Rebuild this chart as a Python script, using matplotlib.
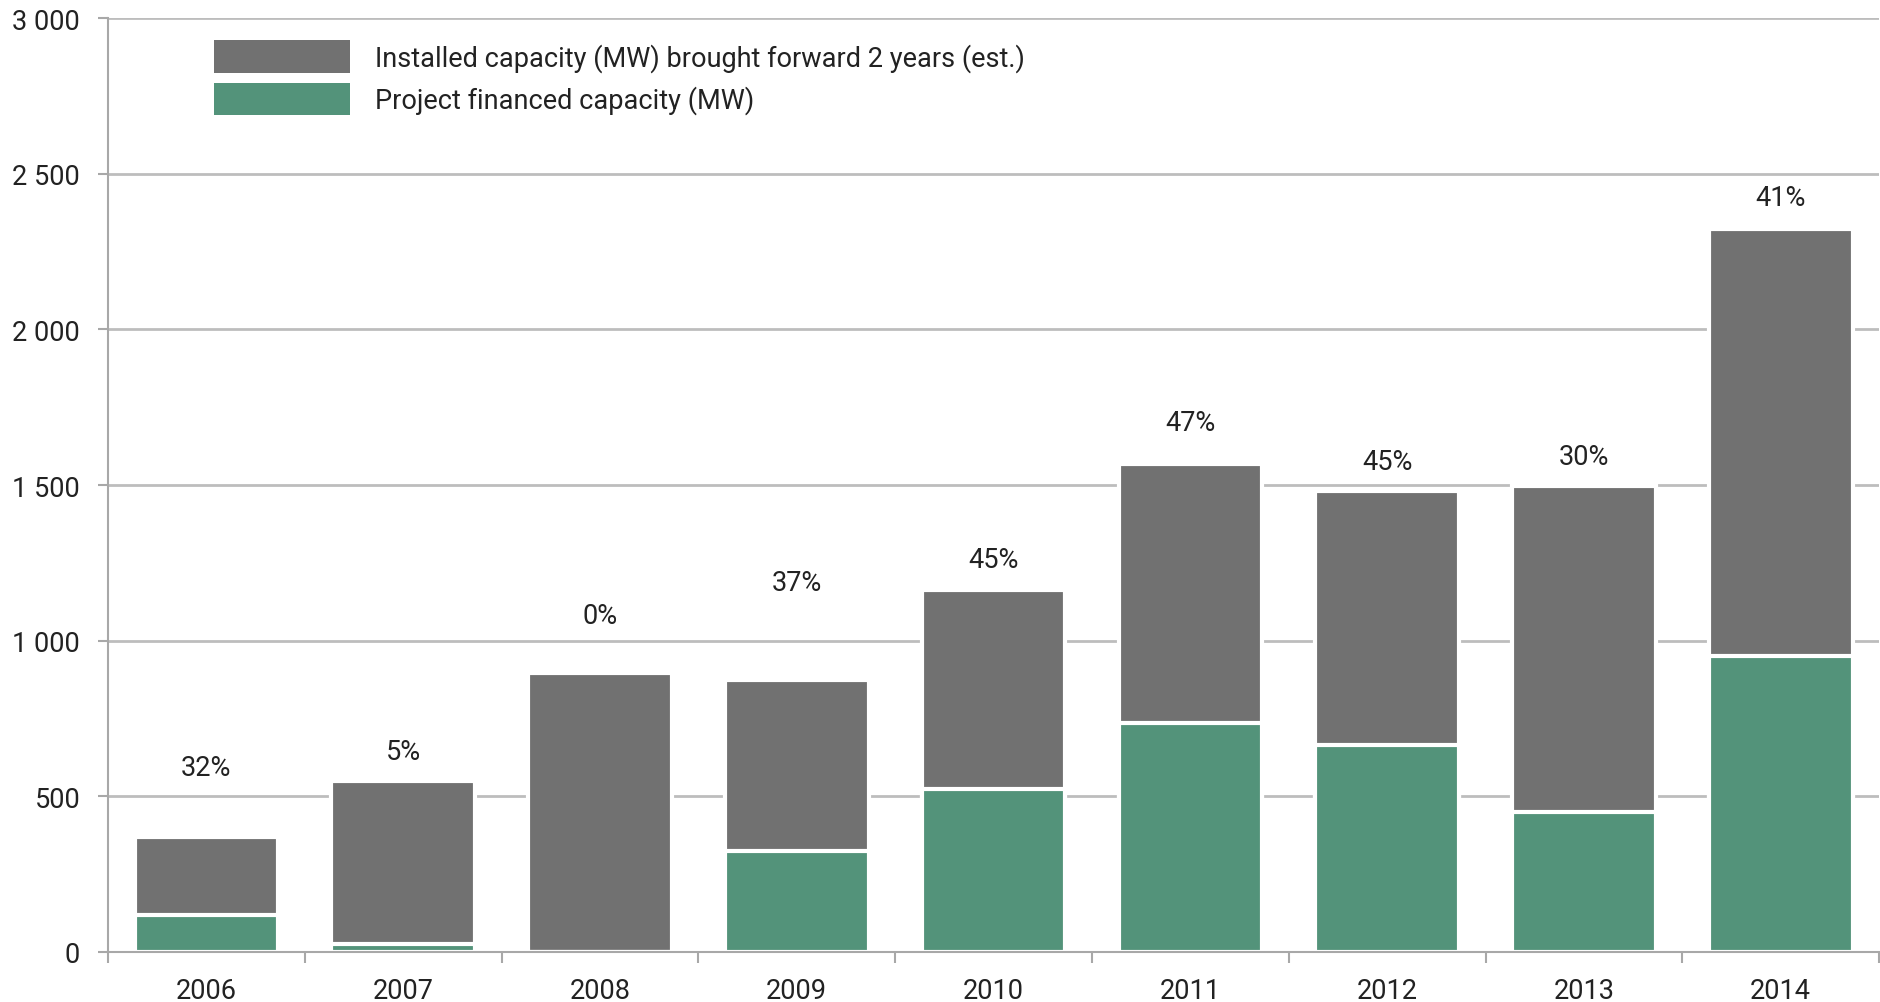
import matplotlib
import numpy as np
import matplotlib.pyplot as plt
from matplotlib.ticker import FuncFormatter, FixedLocator
from matplotlib.patches import Patch

matplotlib.use('Agg')

years = ["2006", "2007", "2008", "2009", "2010", "2011", "2012", "2013", "2014"]
installed = [370, 548, 895, 872, 1163, 1566, 1481, 1496, 2322]
financed = [118, 27, 0, 323, 525, 736, 666, 449, 952]
pct_labels = ["32%", "5%", "0%", "37%", "45%", "47%", "45%", "30%", "41%"]
label_y = [594, 644, 1080, 1188, 1261, 1701, 1577, 1593, 2422]

gray = "#717171"
green = "#53937a"
grid_c = "#bdbdbd"
text_c = "#222222"
fs = 19.5

plt.rcParams['font.family'] = ['Roboto', 'DejaVu Sans']

fig = plt.figure(figsize=(18.81, 10.03), dpi=100)
ax = fig.add_axes([0.0574, 0.0499, 0.9416, 0.9311])

x = np.arange(len(years))
w = 0.73

ax.bar(x, installed, width=w, color=gray, edgecolor="white", linewidth=3, zorder=2)
ax.bar(x, financed, width=w, color=green, edgecolor="white", linewidth=3, zorder=3)

for xi, lab, ly in zip(x, pct_labels, label_y):
    ax.text(xi, ly, lab, ha="center", va="center", fontsize=fs, color=text_c, zorder=5)

ax.set_xlim(-0.5, len(years) - 0.5)
ax.set_ylim(0, 3000)
ax.set_yticks(np.arange(0, 3001, 500))
ax.yaxis.set_major_formatter(FuncFormatter(lambda v, p: f"{int(v):,}".replace(",", " ")))

# year labels centred, ticks at the category borders
ax.set_xticks(x)
ax.set_xticklabels(years)
ax.xaxis.set_minor_locator(FixedLocator(np.arange(-0.5, len(years), 1.0)))
ax.tick_params(axis="x", which="major", length=0, pad=18, labelsize=fs, labelcolor=text_c)
ax.tick_params(axis="x", which="minor", length=8, width=1.5, color="#a8a8a8", direction="out")
ax.tick_params(axis="y", length=7, width=1.5, color="#a8a8a8", pad=13, labelsize=fs, labelcolor=text_c)

ax.set_axisbelow(True)
ax.yaxis.grid(True, color=grid_c, linewidth=2, zorder=0)
for s in ["top", "right"]:
    ax.spines[s].set_visible(False)
for s in ["left", "bottom"]:
    ax.spines[s].set_color("#a8a8a8")
    ax.spines[s].set_linewidth(1.5)
    ax.spines[s].set_zorder(4)

handles = [Patch(facecolor=gray, edgecolor="none"), Patch(facecolor=green, edgecolor="none")]
leg = ax.legend(handles, ["Installed capacity (MW) brought forward 2 years (est.)",
                          "Project financed capacity (MW)"],
                loc="upper left", bbox_to_anchor=(0.06, 0.976), frameon=False,
                fontsize=fs, handlelength=5.0, handleheight=1.46, handletextpad=0.95,
                labelspacing=0.36, borderpad=0, borderaxespad=0, labelcolor=text_c)

fig.savefig("out.png", dpi=100, facecolor="white")
